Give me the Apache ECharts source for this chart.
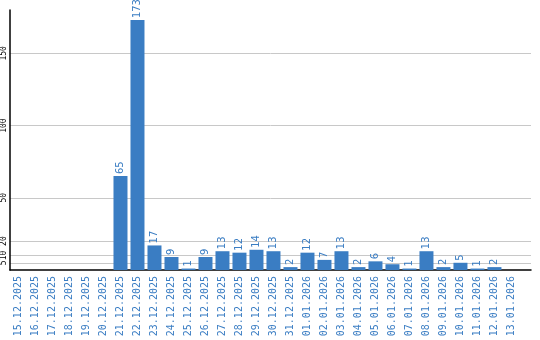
<!DOCTYPE html>
<html><head><meta charset="utf-8">
<script src="https://cdn.jsdelivr.net/npm/echarts@6/dist/echarts.min.js"></script>
<style>html,body{margin:0;padding:0;background:#fff}#c{width:540px;height:340px}</style>
</head><body><div id="c"></div>
<script>
const categories = ["15.12.2025","16.12.2025","17.12.2025","18.12.2025","19.12.2025","20.12.2025","21.12.2025","22.12.2025","23.12.2025","24.12.2025","25.12.2025","26.12.2025","27.12.2025","28.12.2025","29.12.2025","30.12.2025","31.12.2025","01.01.2026","02.01.2026","03.01.2026","04.01.2026","05.01.2026","06.01.2026","07.01.2026","08.01.2026","09.01.2026","10.01.2026","11.01.2026","12.01.2026","13.01.2026"];
const values = [null,null,null,null,null,null,65,173,17,9,1,9,13,12,14,13,2,12,7,13,2,6,4,1,13,2,5,1,2,null];
const yTicks = [5,10,20,50,100,150];
const yMax = 180;
const blue = '#3a7dc3';
const idx = categories.map((c, i) => i);
const chart = echarts.init(document.getElementById('c'));
chart.setOption({
  animation: false,
  grid: {left: 10, right: 9, top: 10, bottom: 70, containLabel: false},
  xAxis: {
    type: 'value', min: -0.5, max: 30.15,
    axisLine: {show: true, onZero: false, lineStyle: {color: '#000', width: 1.5}},
    axisTick: {show: false},
    splitLine: {show: false},
    axisLabel: {rotate: 90, color: blue, fontFamily: 'DejaVu Sans Mono', fontSize: 10, margin: 6,
      customValues: idx, hideOverlap: false, formatter: v => categories[Math.round(v)] || ''}
  },
  yAxis: {
    type: 'value', min: 0, max: yMax,
    axisLine: {show: true, onZero: false, lineStyle: {color: '#000', width: 1.5}},
    axisTick: {show: false},
    splitLine: {show: false},
    axisLabel: {
      rotate: 90, color: '#000', fontFamily: 'DejaVu Sans Mono', fontSize: 8, margin: 2,
      customValues: yTicks, hideOverlap: false, formatter: v => String(v)
    }
  },
  series: [{
    type: 'bar', data: values.map((v, i) => [i, v]), barWidth: 14,
    itemStyle: {color: blue},
    label: {show: true, position: 'top', rotate: 90, align: 'left', verticalAlign: 'middle', distance: 2,
      color: blue, fontFamily: 'DejaVu Sans', fontSize: 10,
      formatter: p => p.value[1] == null ? '' : String(p.value[1])},
    markLine: {
      silent: true, symbol: 'none', z: 0,
      lineStyle: {color: '#c8c8c8', type: 'solid', width: 1},
      label: {show: false},
      data: yTicks.map(t => ({yAxis: t}))
    }
  }]
});
</script></body></html>
